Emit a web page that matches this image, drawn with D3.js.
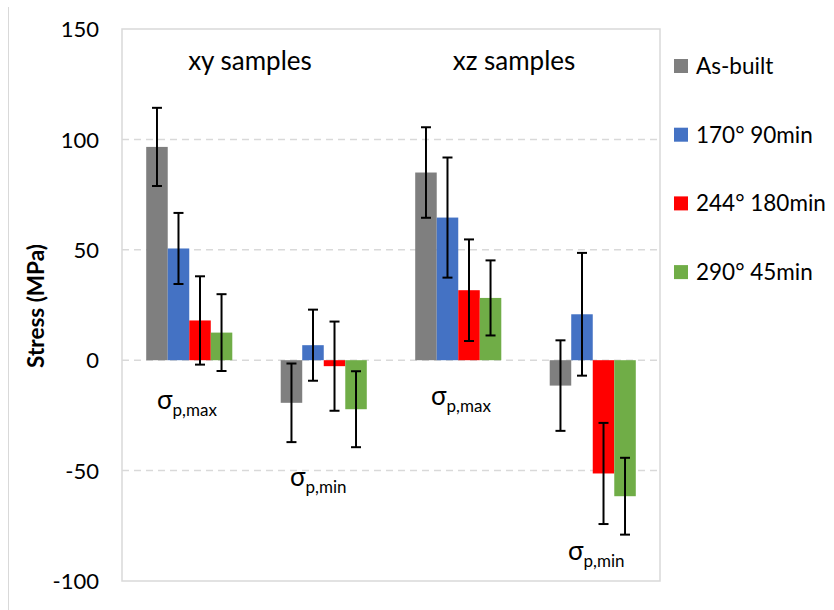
<!DOCTYPE html>
<html>
<head>
<meta charset="utf-8">
<script src="https://cdn.jsdelivr.net/npm/d3@7"></script>
<style>
  body { margin: 0; background: #fff; }
  svg text { font-family: Lato, "Open Sans", sans-serif; fill: #000; }
</style>
</head>
<body>
<svg id="chart" width="834" height="610"></svg>
<script>
// categories (sample orientation + stress type)
const groups = ["xy-max", "xy-min", "xz-max", "xz-min"];
const series = ["As-built", "170° 90min", "244° 180min", "290° 45min"];
const colors = ["#7f7f7f", "#4472c4", "#ff0000", "#70ad47"];

// mean values per series, one value per group
const asBuilt = [96.6, -19.3, 85, -11.5];
const h170 = [50.6, 6.8, 64.6, 20.8];
const h244 = [18, -2.7, 31.7, -51.3];
const h290 = [12.5, -22.2, 28.2, -61.6];

// error (+/-) per series
const errAsBuilt = [17.7, 17.8, 20.5, 20.5];
const err170 = [16.1, 16.1, 27.2, 27.8];
const err244 = [20, 20.2, 23, 22.9];
const err290 = [17.4, 17.2, 17, 17.4];

const yTicks = [150, 100, 50, 0, -50, -100];

const values = [asBuilt, h170, h244, h290];
const errors = [errAsBuilt, err170, err244, err290];

const svg = d3.select("#chart");
const margin = {left: 122, top: 29, right: 660, bottom: 581};

const x0 = d3.scaleBand().domain(groups).range([margin.left, margin.right]).paddingInner(0.36).paddingOuter(0.18);
const x1 = d3.scaleBand().domain(d3.range(series.length)).range([0, x0.bandwidth()]);
const y = d3.scaleLinear().domain([-100, 150]).range([margin.bottom, margin.top]);

// outer frame fragment on the left
svg.append("line").attr("x1", 8.5).attr("x2", 8.5).attr("y1", 7).attr("y2", 610)
    .attr("stroke", "#d9d9d9").attr("stroke-width", 1);

// plot border
svg.append("rect")
    .attr("x", margin.left).attr("y", margin.top)
    .attr("width", margin.right - margin.left).attr("height", margin.bottom - margin.top)
    .attr("fill", "none").attr("stroke", "#d9d9d9").attr("stroke-width", 1.5);

// gridlines
svg.selectAll("line.grid").data(yTicks.filter(d => d !== 150 && d !== -100))
    .enter().append("line").attr("class", "grid")
    .attr("x1", margin.left).attr("x2", margin.right)
    .attr("y1", d => y(d)).attr("y2", d => y(d))
    .attr("stroke", "#d9d9d9").attr("stroke-width", 1.5)
    .attr("stroke-dasharray", "7,5");

// y axis labels
const yAxis = d3.axisLeft(y).tickValues(yTicks).tickSize(0).tickPadding(0).tickFormat(d => String(d));
const ax = svg.append("g").attr("transform", "translate(99,0)").call(yAxis);
ax.select(".domain").remove();
ax.selectAll("text").style("font-size", "22px").attr("fill", "#000").attr("dy", "0.35em");

svg.append("text")
    .attr("transform", "translate(44,306) rotate(-90)")
    .attr("text-anchor", "middle")
    .style("font-size", "22.5px").style("font-weight", "bold")
    .text("Stress (MPa)");

// bars
series.forEach((s, si) => {
    const g = svg.append("g");
    g.selectAll("rect").data(groups).enter().append("rect")
        .attr("x", d => x0(d) + x1(si))
        .attr("width", x1.bandwidth())
        .attr("y", (d, i) => y(Math.max(0, values[si][i])))
        .attr("height", (d, i) => Math.abs(y(values[si][i]) - y(0)))
        .attr("fill", colors[si]);
});

// error bars
series.forEach((s, si) => {
    groups.forEach((gName, i) => {
        const cx = x0(gName) + x1(si) + x1.bandwidth() / 2;
        const v = values[si][i], e = errors[si][i];
        const eg = svg.append("g").attr("stroke", "#000").attr("stroke-width", 2);
        eg.append("line").attr("x1", cx).attr("x2", cx).attr("y1", y(v + e)).attr("y2", y(v - e));
        [v + e, v - e].forEach(t => {
            eg.append("line").attr("x1", cx - 5).attr("x2", cx + 5).attr("y1", y(t)).attr("y2", y(t));
        });
    });
});

// group titles
const titles = [{t: "xy samples", x: 250}, {t: "xz samples", x: 514}];
svg.selectAll("text.title").data(titles).enter().append("text")
    .attr("class", "title")
    .attr("x", d => d.x).attr("y", 70)
    .attr("text-anchor", "middle")
    .style("font-size", "26px")
    .text(d => d.t);

// sigma annotations
const sigmas = [
    {x: 157, y: 409, sub: "p,max"},
    {x: 290, y: 486, sub: "p,min"},
    {x: 431, y: 405, sub: "p,max"},
    {x: 568, y: 560, sub: "p,min"}
];
sigmas.forEach(d => {
    const t = svg.append("text").attr("x", d.x).attr("y", d.y).style("font-size", "26px");
    t.append("tspan").text("σ");
    t.append("tspan").attr("dy", 7).style("font-size", "17px").text(d.sub);
});

// legend
const leg = svg.selectAll("g.leg").data(series).enter().append("g")
    .attr("class", "leg")
    .attr("transform", (d, i) => `translate(674,${66 + i * 68.7})`);
leg.append("rect").attr("x", 0).attr("y", -7).attr("width", 14).attr("height", 14)
    .attr("fill", (d, i) => colors[i]);
leg.append("text").attr("x", 22).attr("y", 0).attr("dy", "0.35em")
    .style("font-size", "22.5px").text(d => d);
</script>
</body>
</html>
